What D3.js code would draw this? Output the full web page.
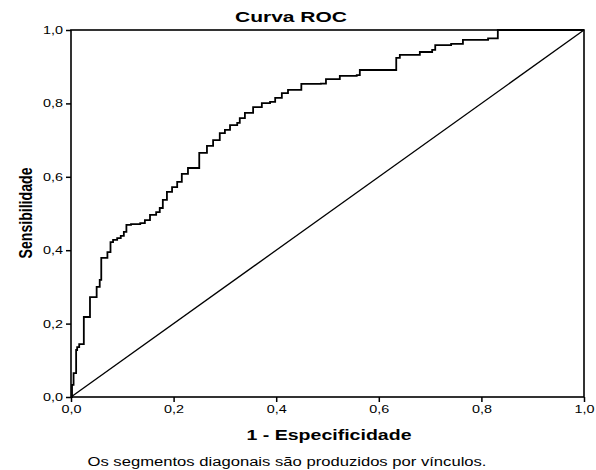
<!DOCTYPE html>
<html>
<head>
<meta charset="utf-8">
<script src="https://cdn.jsdelivr.net/npm/d3@7"></script>
<style>
  body { margin: 0; background: #fff; }
  text { font-family: "Liberation Sans", Arial, sans-serif; fill: #000; }
</style>
</head>
<body>
<svg id="chart" width="596" height="470"></svg>
<script>
// ROC curve vertices (1 - especificidade, sensibilidade)
const fpr = [0.000, 0.002, 0.005, 0.010, 0.012, 0.016, 0.025, 0.037, 0.050, 0.056,
  0.059, 0.071, 0.077, 0.082, 0.090, 0.097, 0.103, 0.108, 0.117, 0.135,
  0.144, 0.154, 0.166, 0.173, 0.179, 0.187, 0.197, 0.207, 0.216, 0.228,
  0.250, 0.265, 0.277, 0.290, 0.300, 0.310, 0.324, 0.329, 0.339, 0.355,
  0.372, 0.388, 0.398, 0.411, 0.423, 0.449, 0.487, 0.497, 0.524, 0.557,
  0.563, 0.634, 0.641, 0.680, 0.704, 0.710, 0.741, 0.764, 0.813, 0.832, 1.000];
const tpr = [0.000, 0.033, 0.065, 0.128, 0.136, 0.144, 0.218, 0.272, 0.300, 0.319,
  0.379, 0.395, 0.422, 0.428, 0.433, 0.439, 0.450, 0.469, 0.471, 0.474,
  0.482, 0.496, 0.504, 0.515, 0.537, 0.559, 0.572, 0.586, 0.608, 0.624,
  0.665, 0.684, 0.700, 0.719, 0.728, 0.741, 0.747, 0.760, 0.774, 0.790,
  0.801, 0.804, 0.815, 0.828, 0.837, 0.853, 0.854, 0.866, 0.875, 0.877,
  0.891, 0.924, 0.932, 0.940, 0.946, 0.959, 0.962, 0.973, 0.977, 1.000, 1.000];
const tickValues = [0, 0.2, 0.4, 0.6, 0.8, 1.0];
const tickLabels = ["0,0", "0,2", "0,4", "0,6", "0,8", "1,0"];

const svg = d3.select("#chart");
const x = d3.scaleLinear().domain([0, 1]).range([71, 584]);
const y = d3.scaleLinear().domain([0, 1]).range([397, 30]);

// stretch text horizontally like the original picture
function stretch(sel, len) {
  sel.attr("textLength", len).attr("lengthAdjust", "spacingAndGlyphs");
}

// axes
const xAxis = svg.append("g")
  .attr("transform", "translate(0,397)")
  .call(d3.axisBottom(x).tickValues(tickValues).tickFormat((d, i) => tickLabels[i]).tickSize(5).tickSizeOuter(0));
const yAxis = svg.append("g")
  .attr("transform", "translate(71,0)")
  .call(d3.axisLeft(y).tickValues(tickValues).tickFormat((d, i) => tickLabels[i]).tickSize(5).tickSizeOuter(0));

[xAxis, yAxis].forEach(g => {
  g.select(".domain").remove();
  g.selectAll(".tick line").attr("stroke", "#000").attr("stroke-width", 1.5);
  g.selectAll(".tick text").attr("font-size", 11).attr("fill", "#000")
    .attr("font-family", "Liberation Sans, Arial, sans-serif")
    .call(stretch, 20);
});
xAxis.selectAll(".tick text").attr("y", 8);
yAxis.selectAll(".tick text").attr("x", -8);

// frame
svg.append("rect")
  .attr("x", x(0)).attr("y", y(1))
  .attr("width", x(1) - x(0)).attr("height", y(0) - y(1))
  .attr("fill", "none").attr("stroke", "#000").attr("stroke-width", 1.6);

// reference diagonal
svg.append("line")
  .attr("x1", x(0)).attr("y1", y(0)).attr("x2", x(1)).attr("y2", y(1))
  .attr("stroke", "#000").attr("stroke-width", 1.3);

// ROC curve
const pts = fpr.map((v, i) => [v, tpr[i]]);
const line = d3.line().x(d => x(d[0])).y(d => y(d[1])).curve(d3.curveStepAfter);
svg.append("path")
  .attr("d", line(pts))
  .attr("fill", "none").attr("stroke", "#000").attr("stroke-width", 1.8);

// titles
svg.append("text").attr("x", 291).attr("y", 22).attr("text-anchor", "middle")
  .attr("font-size", 14).attr("font-weight", "bold").text("Curva ROC").call(stretch, 112);
svg.append("text").attr("x", 329).attr("y", 440).attr("text-anchor", "middle")
  .attr("font-size", 15).attr("font-weight", "bold").text("1 - Especificidade").call(stretch, 165);
svg.append("text").attr("transform", "translate(32,213) scale(1.25,1) rotate(-90)").attr("text-anchor", "middle")
  .attr("font-size", 14).attr("font-weight", "bold").attr("fill", "#000")
  .text("Sensibilidade").call(stretch, 91);
svg.append("text").attr("x", 287).attr("y", 466).attr("text-anchor", "middle")
  .attr("font-size", 12).text("Os segmentos diagonais são produzidos por vínculos.").call(stretch, 399);
</script>
</body>
</html>
